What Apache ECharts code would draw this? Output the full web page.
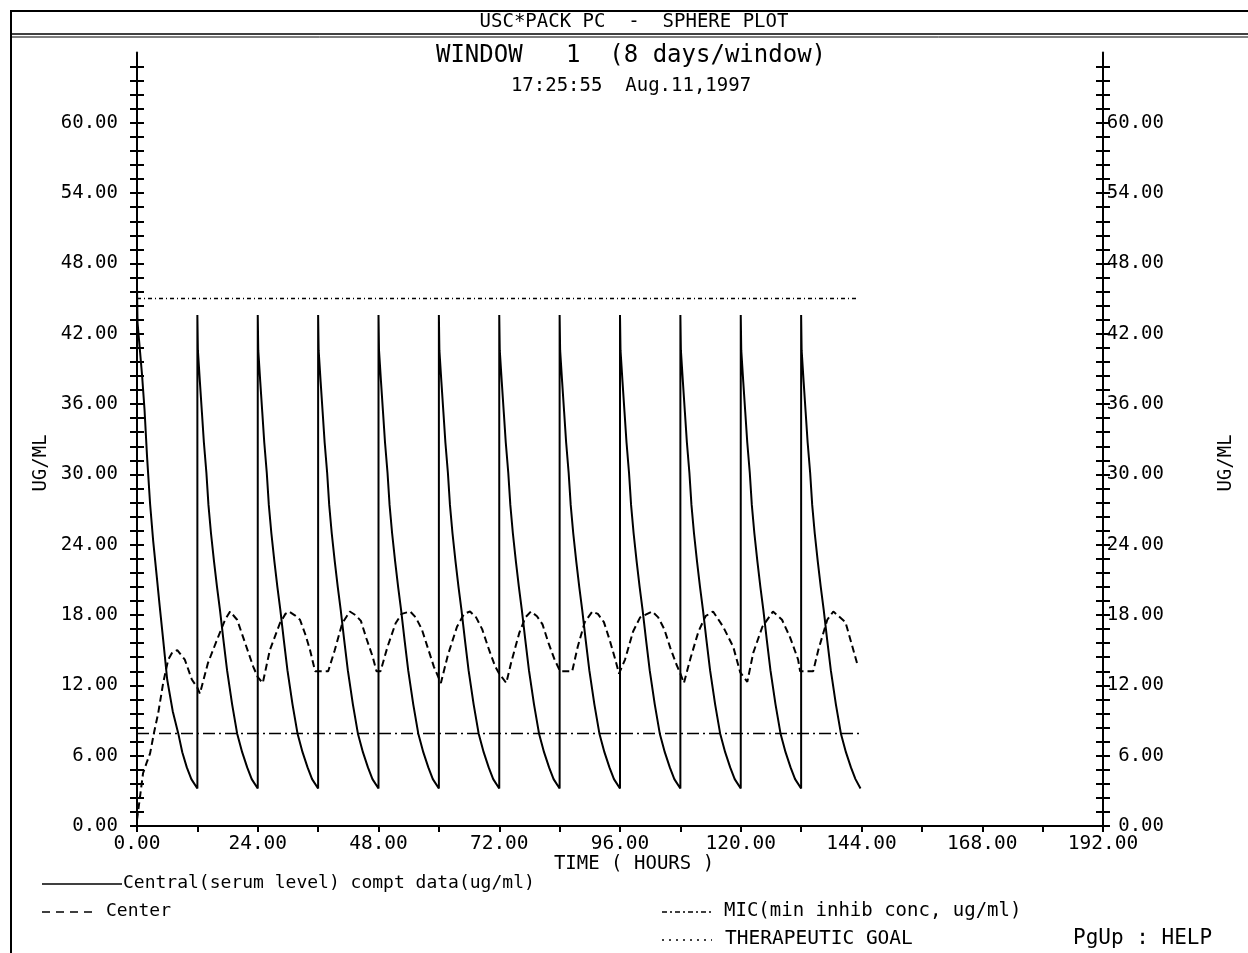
<!DOCTYPE html>
<html>
<head>
<meta charset="utf-8">
<title>USC*PACK PC - SPHERE PLOT</title>
<script src="https://cdn.jsdelivr.net/npm/echarts@6/dist/echarts.min.js"></script>
<style>
  html, body { margin: 0; padding: 0; background: #fff; }
  #chart { width: 1248px; height: 953px; }
</style>
</head>
<body>
<div id="chart"></div>
<script>
// Central compartment (serum) concentration, ug/ml, vs time in hours. One dose every 12 h.
const serumLevel = [
  [0,0],[0,46.0],[0.1,43.0],[0.5,41.0],[1.0,38.5],[1.5,35.5],[2.0,31.5],[2.6,27.5],[3.2,24.4],[3.9,21.4],[4.5,18.8],[5.2,15.9],[6.0,12.5],[7.1,9.8],[8.2,7.9],[9.0,6.3],[9.9,5.0],[10.8,4.0],[12.0,3.2],
  [12,43.6],[12.1,40.6],[12.5,37.9],[12.9,35.3],[13.3,32.7],[13.8,30.1],[14.2,27.4],[14.7,25.0],[15.3,22.6],[15.9,20.4],[16.5,18.4],[17.2,15.8],[17.9,13.3],[18.9,10.4],[19.9,7.9],[20.9,6.3],[21.9,5.0],[22.8,4.0],[24.0,3.2],
  [24,43.6],[24.1,40.6],[24.5,37.9],[24.9,35.3],[25.3,32.7],[25.8,30.1],[26.2,27.4],[26.7,25.0],[27.3,22.6],[27.9,20.4],[28.5,18.4],[29.2,15.8],[29.9,13.3],[30.9,10.4],[31.9,7.9],[32.9,6.3],[33.9,5.0],[34.8,4.0],[36.0,3.2],
  [36,43.6],[36.1,40.6],[36.5,37.9],[36.9,35.3],[37.3,32.7],[37.8,30.1],[38.2,27.4],[38.7,25.0],[39.3,22.6],[39.9,20.4],[40.5,18.4],[41.2,15.8],[41.9,13.3],[42.9,10.4],[43.9,7.9],[44.9,6.3],[45.9,5.0],[46.8,4.0],[48.0,3.2],
  [48,43.6],[48.1,40.6],[48.5,37.9],[48.9,35.3],[49.3,32.7],[49.8,30.1],[50.2,27.4],[50.7,25.0],[51.3,22.6],[51.9,20.4],[52.5,18.4],[53.2,15.8],[53.9,13.3],[54.9,10.4],[55.9,7.9],[56.9,6.3],[57.9,5.0],[58.8,4.0],[60.0,3.2],
  [60,43.6],[60.1,40.6],[60.5,37.9],[60.9,35.3],[61.3,32.7],[61.8,30.1],[62.2,27.4],[62.7,25.0],[63.3,22.6],[63.9,20.4],[64.5,18.4],[65.2,15.8],[65.9,13.3],[66.9,10.4],[67.9,7.9],[68.9,6.3],[69.9,5.0],[70.8,4.0],[72.0,3.2],
  [72,43.6],[72.1,40.6],[72.5,37.9],[72.9,35.3],[73.3,32.7],[73.8,30.1],[74.2,27.4],[74.7,25.0],[75.3,22.6],[75.9,20.4],[76.5,18.4],[77.2,15.8],[77.9,13.3],[78.9,10.4],[79.9,7.9],[80.9,6.3],[81.9,5.0],[82.8,4.0],[84.0,3.2],
  [84,43.6],[84.1,40.6],[84.5,37.9],[84.9,35.3],[85.3,32.7],[85.8,30.1],[86.2,27.4],[86.7,25.0],[87.3,22.6],[87.9,20.4],[88.5,18.4],[89.2,15.8],[89.9,13.3],[90.9,10.4],[91.9,7.9],[92.9,6.3],[93.9,5.0],[94.8,4.0],[96.0,3.2],
  [96,43.6],[96.1,40.6],[96.5,37.9],[96.9,35.3],[97.3,32.7],[97.8,30.1],[98.2,27.4],[98.7,25.0],[99.3,22.6],[99.9,20.4],[100.5,18.4],[101.2,15.8],[101.9,13.3],[102.9,10.4],[103.9,7.9],[104.9,6.3],[105.9,5.0],[106.8,4.0],[108.0,3.2],
  [108,43.6],[108.1,40.6],[108.5,37.9],[108.9,35.3],[109.3,32.7],[109.8,30.1],[110.2,27.4],[110.7,25.0],[111.3,22.6],[111.9,20.4],[112.5,18.4],[113.2,15.8],[113.9,13.3],[114.9,10.4],[115.9,7.9],[116.9,6.3],[117.9,5.0],[118.8,4.0],[120.0,3.2],
  [120,43.6],[120.1,40.6],[120.5,37.9],[120.9,35.3],[121.3,32.7],[121.8,30.1],[122.2,27.4],[122.7,25.0],[123.3,22.6],[123.9,20.4],[124.5,18.4],[125.2,15.8],[125.9,13.3],[126.9,10.4],[127.9,7.9],[128.9,6.3],[129.9,5.0],[130.8,4.0],[132.0,3.2],
  [132,43.6],[132.1,40.6],[132.5,37.9],[132.9,35.3],[133.3,32.7],[133.8,30.1],[134.2,27.4],[134.7,25.0],[135.3,22.6],[135.9,20.4],[136.5,18.4],[137.2,15.8],[137.9,13.3],[138.9,10.4],[139.9,7.9],[140.9,6.3],[141.9,5.0],[142.8,4.0],[143.8,3.2]
];

// "Center" curve, ug/ml vs hours.
const centerLevel = [
  [0,0.5],[0.6,2.5],[1.2,4.5],[2.0,5.5],[2.6,6.2],[3.4,8.0],[4.2,9.6],[5.2,12.2],[6.2,14.2],[7.0,14.8],[8.0,15.0],[9.5,14.2],[10.9,12.5],[12.0,11.8],[12.5,11.3],
  [14.1,13.9],[16.1,16.1],[17.5,17.6],[18.5,18.3],[19.9,17.6],[21.5,15.6],[23.1,13.6],[24.0,12.7],[25.0,12.2],
  [26.4,15.0],[28.4,17.3],[29.5,18.1],[30.2,18.3],[31.3,18.0],[32.4,17.6],[33.5,16.3],[34.4,15.0],[35.4,13.2],[38.0,13.2],
  [39.3,15.0],[40.8,17.3],[42.3,18.3],[43.4,18.0],[44.5,17.5],[45.6,16.0],[46.8,14.5],[47.6,13.2],[48.4,13.2],
  [49.8,15.3],[51.4,17.3],[52.6,18.1],[54.3,18.3],[55.4,17.8],[56.6,16.8],[57.8,15.2],[59.0,13.6],[60.4,12.2],
  [61.8,14.6],[63.6,17.0],[65.0,18.1],[66.2,18.3],[67.4,17.8],[68.6,16.8],[70.0,15.0],[71.2,13.6],[72.0,13.0],[73.4,12.2],
  [74.4,14.0],[76.0,16.5],[77.2,17.8],[78.3,18.3],[79.5,17.9],[80.6,17.2],[81.8,15.6],[83.0,14.2],[84.1,13.2],[86.5,13.2],
  [87.6,15.3],[89.0,17.4],[90.5,18.3],[91.6,18.1],[92.8,17.4],[94.0,15.8],[95.0,14.3],[95.8,13.0],
  [97.0,14.2],[98.6,16.6],[100.0,17.8],[102.4,18.3],[103.6,17.8],[104.8,16.8],[106.0,15.2],[107.2,13.8],[108.0,13.0],[108.7,12.2],
  [110.0,14.3],[111.6,16.6],[113.0,17.9],[114.5,18.3],[116.5,17.0],[118.5,15.3],[119.9,13.1],[121.3,12.3],
  [122.5,14.8],[124.3,17.0],[126.4,18.3],[128.2,17.6],[129.8,16.1],[131.4,14.2],[131.8,13.2],[134.4,13.2],
  [135.4,15.0],[137.2,17.6],[138.4,18.3],[140.8,17.4],[142.0,15.6],[143.3,13.6]
];

// Reference levels (ug/ml) and the time span they cover (hours).
const micLevel = 7.9;
const goalLevel = 45.0;
const levelSpan = [0, 143.5];

// Axis ticks and labels.
const xTickValues = [0,12,24,36,48,60,72,84,96,108,120,132,144,156,168,180,192];
const xLabelValues = [0,24,48,72,96,120,144,168,192];
const yLabelValues = [0,6,12,18,24,30,36,42,48,54,60];
const yMinorStep = 1.2;
const yTopTick = 64.8;

const yTickValues = [];
for (let i = 0; i * yMinorStep <= yTopTick + 1e-9; i++) yTickValues.push(+(i * yMinorStep).toFixed(1));

const FONT = '"DejaVu Sans Mono", "Liberation Mono", monospace';
const INK = '#000';
const fmt = v => Number(v).toFixed(2);

function yAxisDef(position, inside, withLabel, withLine) {
  return {
    type: 'value', position: position, min: 0, max: 66,
    axisLine: { show: withLine, onZero: false, lineStyle: { color: INK, width: 2 } },
    axisTick: { show: true, inside: inside, length: 7, customValues: yTickValues,
                lineStyle: { color: INK, width: 2 } },
    axisLabel: withLabel ? {
      show: true, customValues: yLabelValues, formatter: fmt,
      color: INK, fontFamily: FONT, fontSize: 19,
      margin: position === 'left' ? 19 : 61, align: 'right'
    } : { show: false },
    splitLine: { show: false }
  };
}

function levelLine(name, level, dash) {
  return {
    name: name, type: 'line', showSymbol: false, silent: true,
    data: [[levelSpan[0], level], [levelSpan[1], level]],
    lineStyle: { color: INK, width: 1.5, type: dash }
  };
}

const chart = echarts.init(document.getElementById('chart'), null, { renderer: 'canvas' });

chart.setOption({
  animation: false,
  backgroundColor: '#fff',
  grid: { left: 137, right: 145, top: 52.5, bottom: 127, containLabel: false },
  xAxis: {
    type: 'value', min: 0, max: 192,
    axisLine: { show: true, onZero: false, lineStyle: { color: INK, width: 2 } },
    axisTick: { show: true, length: 6, customValues: xTickValues, lineStyle: { color: INK, width: 2 } },
    axisLabel: { customValues: xLabelValues, formatter: fmt, color: INK, fontFamily: FONT, fontSize: 19.5, margin: 8 },
    splitLine: { show: false }
  },
  yAxis: [
    yAxisDef('left', false, true, true),
    yAxisDef('left', true, false, false),
    yAxisDef('right', false, true, true),
    yAxisDef('right', true, false, false)
  ],
  series: [
    {
      name: 'Central(serum level) compt data(ug/ml)', type: 'line', showSymbol: false,
      data: serumLevel, lineStyle: { color: INK, width: 2 }, z: 3
    },
    {
      name: 'Center', type: 'line', showSymbol: false,
      data: centerLevel, lineStyle: { color: INK, width: 2, type: [7, 4] }, z: 3
    },
    levelLine('MIC(min inhib conc, ug/ml)', micLevel, [12, 4, 2, 4]),
    levelLine('THERAPEUTIC GOAL', goalLevel, [4, 3, 1, 3])
  ],
  graphic: [
    // frame of the screen header
    { type: 'line', shape: { x1: 10, y1: 11, x2: 1248, y2: 11 }, style: { stroke: INK, lineWidth: 2 } },
    { type: 'line', shape: { x1: 10, y1: 34, x2: 1248, y2: 34 }, style: { stroke: INK, lineWidth: 1.5 } },
    { type: 'line', shape: { x1: 10, y1: 37, x2: 1248, y2: 37 }, style: { stroke: INK, lineWidth: 1 } },
    { type: 'line', shape: { x1: 11, y1: 10, x2: 11, y2: 953 }, style: { stroke: INK, lineWidth: 2 } },
    { type: 'text', x: 634, y: 22, style: { text: 'USC*PACK PC  -  SPHERE PLOT', fill: INK, font: '19px ' + FONT, textAlign: 'center', textVerticalAlign: 'middle' } },
    { type: 'text', x: 631, y: 56, style: { text: 'WINDOW   1  (8 days/window)', fill: INK, font: '24px ' + FONT, textAlign: 'center', textVerticalAlign: 'middle' } },
    { type: 'text', x: 631, y: 86, style: { text: '17:25:55  Aug.11,1997', fill: INK, font: '19px ' + FONT, textAlign: 'center', textVerticalAlign: 'middle' } },
    // axis titles
    { type: 'text', x: 41, y: 463, rotation: Math.PI / 2, style: { text: 'UG/ML', fill: INK, font: '19px ' + FONT, textAlign: 'center', textVerticalAlign: 'middle' } },
    { type: 'text', x: 1226, y: 463, rotation: Math.PI / 2, style: { text: 'UG/ML', fill: INK, font: '19px ' + FONT, textAlign: 'center', textVerticalAlign: 'middle' } },
    { type: 'text', x: 634, y: 864, style: { text: 'TIME ( HOURS )', fill: INK, font: '19px ' + FONT, textAlign: 'center', textVerticalAlign: 'middle' } },
    // key
    { type: 'line', shape: { x1: 42, y1: 884, x2: 122, y2: 884 }, style: { stroke: INK, lineWidth: 1.5 } },
    { type: 'text', x: 123, y: 883, style: { text: 'Central(serum level) compt data(ug/ml)', fill: INK, font: '18px ' + FONT, textVerticalAlign: 'middle' } },
    { type: 'line', shape: { x1: 42, y1: 912, x2: 96, y2: 912 }, style: { stroke: INK, lineWidth: 1.5, lineDash: [8, 6] } },
    { type: 'text', x: 106, y: 911, style: { text: 'Center', fill: INK, font: '18px ' + FONT, textVerticalAlign: 'middle' } },
    { type: 'line', shape: { x1: 662, y1: 912, x2: 712, y2: 912 }, style: { stroke: INK, lineWidth: 1.5, lineDash: [5, 3, 2, 3] } },
    { type: 'text', x: 724, y: 911, style: { text: 'MIC(min inhib conc, ug/ml)', fill: INK, font: '19px ' + FONT, textVerticalAlign: 'middle' } },
    { type: 'line', shape: { x1: 662, y1: 940, x2: 712, y2: 940 }, style: { stroke: INK, lineWidth: 1.5, lineDash: [2, 5] } },
    { type: 'text', x: 725, y: 939, style: { text: 'THERAPEUTIC GOAL', fill: INK, font: '19.5px ' + FONT, textVerticalAlign: 'middle' } },
    { type: 'text', x: 1073, y: 939, style: { text: 'PgUp : HELP', fill: INK, font: '21px ' + FONT, textVerticalAlign: 'middle' } }
  ]
});
</script>
</body>
</html>
